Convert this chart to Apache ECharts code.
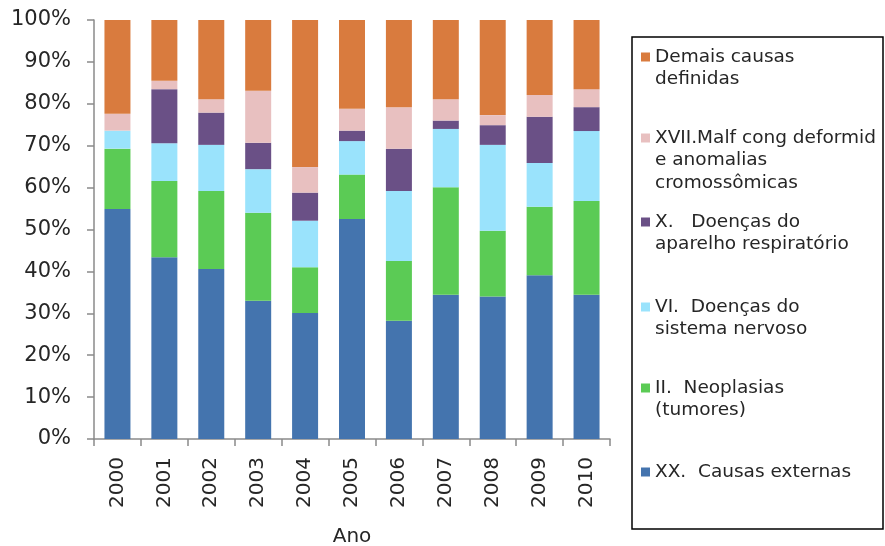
<!DOCTYPE html>
<html><head><meta charset="utf-8">
<script src="https://cdn.jsdelivr.net/npm/echarts@6/dist/echarts.min.js"></script>
<style>html,body{margin:0;padding:0;background:#fff}#c{width:885px;height:546px}</style>
</head><body><div id="c"></div>
<script>
var years = ['2000','2001','2002','2003','2004','2005','2006','2007','2008','2009','2010'];
var yTicks = [0,10,20,30,40,50,60,70,80,90,100];
var seriesNames = ['XX.  Causas externas','II.  Neoplasias (tumores)','VI.  Doenças do sistema nervoso','X.   Doenças do aparelho respiratório','XVII.Malf cong deformid e anomalias cromossômicas','Demais causas definidas'];
var legendLabels = ['XX.  Causas externas','II.  Neoplasias\n(tumores)','VI.  Doenças do\nsistema nervoso','X.   Doenças do\naparelho respiratório','XVII.Malf cong deformid\ne anomalias\ncromossômicas','Demais causas\ndefinidas'];
var causasExternas = [54.9,43.4,40.6,33.0,30.1,52.5,28.2,34.4,34.0,39.1,34.4];
var neoplasias     = [14.4,18.2,18.6,21.0,10.9,10.6,14.3,25.7,15.7,16.3,22.4];
var sistemaNervoso = [4.3,9.0,11.0,10.4,11.1,8.0,16.7,13.9,20.5,10.5,16.7];
var respiratorio   = [0,12.9,7.7,6.3,6.7,2.5,10.1,2.0,4.7,11.0,5.7];
var malformacoes   = [4.0,2.0,3.2,12.4,6.1,5.2,9.9,5.1,2.4,5.2,4.3];
var demaisCausas   = [22.4,14.5,18.9,16.9,35.1,21.2,20.8,18.9,22.7,17.9,16.5];

var colors = ['#4474AE','#5BCB55','#9AE3FC','#6A5086','#E8C0C0','#D97B3E'];
var values = [causasExternas,neoplasias,sistemaNervoso,respiratorio,malformacoes,demaisCausas];
var legendY = [472,388,307,222,138,57];
var LH = 22.5;
var FONT = 'DejaVu Sans';

var series = values.map(function(v,i){
  return {name: seriesNames[i], type:'bar', stack:'total', barWidth:26, data:v,
    itemStyle:{color:colors[i]}, emphasis:{disabled:true}};
});
var legends = [];
seriesNames.forEach(function(n,i){
  legends.push({
    data:[{name:n, icon:'rect', itemStyle:{opacity:0}}], orient:'vertical', left:641,
    top: legendY[i] - LH/2, padding:0, itemWidth:9, itemHeight:9,
    selectedMode:false,
    formatter:function(){return legendLabels[i];},
    textStyle:{fontFamily:FONT, fontSize:18.5, color:'#262626', lineHeight:LH}
  });
  legends.push({
    data:[{name:n, icon:'rect'}], orient:'vertical', left:641,
    top: legendY[i] - 4.5, padding:0, itemWidth:9, itemHeight:9,
    selectedMode:false,
    formatter:function(){return '';},
    textStyle:{fontSize:9, lineHeight:9}
  });
});
var chart = echarts.init(document.getElementById('c'), null, {renderer:'canvas'});
chart.setOption({
  animation:false,
  color:colors,
  grid:{left:94, right:275, top:20, bottom:107, containLabel:false, outerBoundsMode:'none'},
  legend: legends,
  graphic:[{type:'rect', shape:{x:632, y:37, width:251, height:492}, style:{fill:'none', stroke:'#000', lineWidth:1.5}, silent:true}],
  xAxis:{type:'category', data:years,
    axisLine:{lineStyle:{color:'#8a8a8a', width:1.5}},
    axisTick:{show:true, length:7, alignWithLabel:false, lineStyle:{color:'#8a8a8a', width:1.5}},
    axisLabel:{rotate:90, margin:18, fontFamily:FONT, fontSize:20, color:'#262626', interval:0},
    name:'Ano', nameLocation:'middle', nameGap:88,
    nameTextStyle:{fontFamily:FONT, fontSize:20, color:'#262626'}},
  yAxis:{type:'value', min:0, max:100, interval:10,
    axisLine:{show:true, lineStyle:{color:'#8a8a8a', width:1.5}},
    axisTick:{show:true, length:7, lineStyle:{color:'#8a8a8a', width:1.5}},
    splitLine:{show:false},
    axisLabel:{fontFamily:FONT, fontSize:21, color:'#262626', margin:23,
      formatter:function(v){return yTicks.indexOf(v)>=0 ? v+'%' : '';}}},
  series:series
});
</script></body></html>
